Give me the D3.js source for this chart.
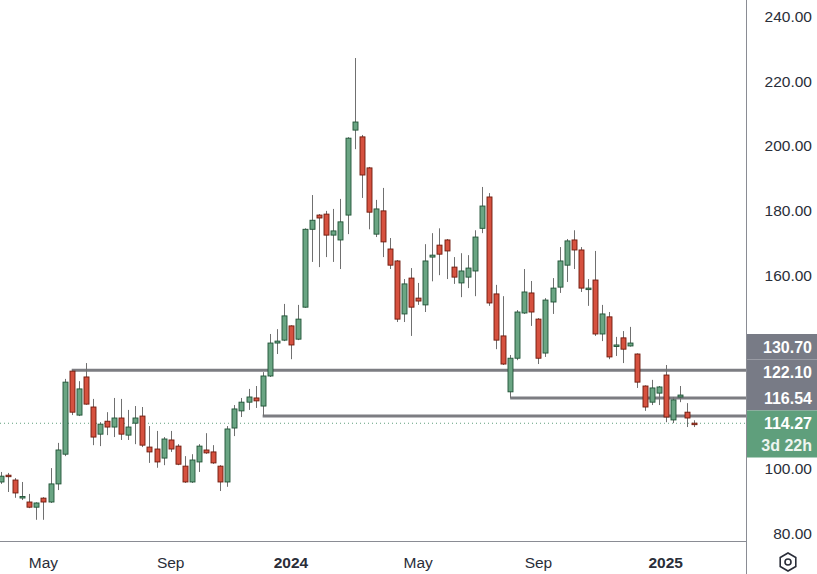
<!DOCTYPE html>
<html>
<head>
<meta charset="utf-8">
<script src="https://d3js.org/d3.v7.min.js"></script>
<style>
  body { margin: 0; background: #fff; }
  svg text { font-family: "Liberation Sans", Arial, sans-serif; }
</style>
</head>
<body>
<svg id="chart" width="817" height="574"></svg>
<script>
// weekly candles, first week 2023-03-20
var firstWeek = new Date(2023, 2, 20);
var opens  = [96.1,98.2,96.7,91.3,89.9,88.3,91.1,89.9,95.5,104.7,130.4,116.8,128.6,119.3,110.9,114.9,113.1,115.9,110.6,114.3,
              116.5,106.9,106.3,103.5,109.1,107.2,101.0,96.1,102.3,106.0,105.4,101.0,96.1,112.8,118.1,120.8,122.1,119.6,128.9,139.1,
              140.0,144.4,140.3,150.2,174.3,178.7,179.0,172.5,171.0,178.7,205.0,202.9,193.3,172.8,180.0,168.2,164.5,148.1,159.2,153.0,
              150.9,165.7,169.4,171.0,162.6,157.7,159.5,161.4,174.6,184.3,154.3,141.3,124.0,134.4,148.4,154.6,146.5,136.0,151.8,156.4,
              163.2,171.0,167.9,155.8,158.6,141.9,147.2,138.3,140.7,138.2,135.7,125.8,120.8,123.6,129.2,115.3,122.4,117.7,114.3];
var highs  = [99.2,98.9,97.3,96.1,92.4,89.8,91.4,100.4,108.2,128.0,130.7,127.3,132.9,121.8,114.6,117.7,122.1,121.8,118.4,119.6,
              119.3,113.4,111.9,110.0,111.9,107.8,104.1,104.7,107.8,111.2,107.5,101.3,113.4,119.9,122.1,124.9,125.8,130.1,141.9,143.4,
              151.2,144.6,150.9,174.6,184.9,179.0,180.0,180.6,183.7,202.8,227.3,203.5,193.6,183.4,187.1,171.6,164.8,158.9,162.3,157.7,
              169.7,173.1,174.6,171.3,165.7,166.9,166.3,174.0,187.4,185.5,157.1,153.6,135.4,149.3,162.0,158.3,146.8,153.0,159.2,168.8,
              171.3,174.0,168.8,158.9,167.6,150.9,148.7,141.0,142.8,144.1,135.9,126.0,127.7,125.8,132.3,122.4,125.8,120.5,115.2];
var lows   = [95.5,93.0,91.2,90.5,88.0,84.4,84.4,89.6,93.6,104.1,116.8,116.5,120.0,107.5,107.2,110.6,110.0,109.1,109.1,107.8,
              106.9,102.0,100.5,101.3,105.4,101.3,95.8,95.8,99.2,104.8,101.7,93.3,94.6,110.3,116.2,118.4,119.0,116.5,128.6,135.7,
              139.7,134.1,140.0,150.0,164.2,162.6,165.7,164.2,162.0,172.8,199.1,184.0,174.3,171.9,165.7,162.0,145.6,145.6,141.3,150.9,
              148.7,158.2,160.1,158.9,157.4,153.3,156.1,153.6,173.1,150.6,137.2,132.3,122.1,133.8,148.1,144.4,132.6,134.8,148.1,154.6,
              158.0,162.0,154.9,150.6,141.3,139.7,134.1,135.1,132.9,138.0,125.2,118.1,119.9,119.9,114.6,114.3,120.8,113.1,113.1];
var closes = [97.9,97.9,92.7,91.6,88.3,89.6,89.9,95.5,106.0,127.0,117.7,124.9,120.2,110.0,114.0,113.1,115.9,110.9,113.1,115.9,
              107.5,105.4,102.3,109.4,106.3,101.6,96.1,102.9,107.2,105.1,102.0,96.1,112.5,118.7,120.8,122.4,121.2,128.9,139.1,139.7,
              147.5,138.5,146.5,174.3,177.1,177.8,172.5,173.8,176.6,202.5,207.5,191.1,179.6,180.6,170.4,163.2,146.5,157.4,150.2,152.1,
              164.5,166.3,166.6,167.6,159.5,161.4,162.3,171.9,181.5,151.5,140.0,132.6,134.4,148.7,154.9,148.7,134.4,152.4,156.1,164.5,
              170.7,167.9,156.1,156.1,141.9,148.1,134.8,138.5,137.2,139.1,127.0,119.3,125.2,125.5,116.2,121.5,123.0,115.9,114.27];

var yTicks = [80, 100, 120, 140, 160, 180, 200, 220, 240];
// support / resistance lines: price and start week index
var levelPrices = [130.70, 122.10, 116.54];
var levelStart  = [10, 72, 37];
var lastPrice = 114.27;
var countdown = "3d 22h";

var data = opens.map(function(o, i){
  return { date: d3.timeWeek.offset(firstWeek, i), o: o, h: highs[i], l: lows[i], c: closes[i] };
});

var svg = d3.select("#chart");
var plotRight = 746, plotBottom = 541;

var x = d3.scaleTime()
  .domain([data[0].date, data[data.length - 1].date])
  .range([1, 694]);
var y = d3.scaleLinear().domain([80, 240]).range([534, 17]);

var green = "#6aa583", greenEdge = "#1f5235", red = "#d6513f", redEdge = "#6e1a0c";

// dotted last price line
svg.append("line")
  .attr("x1", 0).attr("x2", plotRight)
  .attr("y1", y(lastPrice)).attr("y2", y(lastPrice))
  .attr("stroke", "#5f9f7c").attr("stroke-width", 1).attr("stroke-dasharray", "1,3");

// levels
svg.selectAll(".lvl").data(levelPrices).enter().append("line")
  .attr("x1", function(d, i){ return x(data[levelStart[i]].date); })
  .attr("x2", plotRight)
  .attr("y1", function(d){ return y(d); }).attr("y2", function(d){ return y(d); })
  .attr("stroke", "#7c7d82").attr("stroke-width", 3);

// candles
var g = svg.append("g").selectAll("g").data(data).enter().append("g");
g.append("line")
  .attr("x1", function(d){ return Math.round(x(d.date)) + 0.5; })
  .attr("x2", function(d){ return Math.round(x(d.date)) + 0.5; })
  .attr("y1", function(d){ return y(d.h); })
  .attr("y2", function(d){ return y(d.l); })
  .attr("stroke", "#707070").attr("stroke-width", 1);
g.append("rect")
  .attr("x", function(d){ return Math.round(x(d.date)) - 2; })
  .attr("width", 5)
  .attr("y", function(d){ return y(Math.max(d.o, d.c)); })
  .attr("height", function(d){ return Math.max(1.5, Math.abs(y(d.o) - y(d.c))); })
  .attr("fill", function(d){ return d.c >= d.o ? green : red; })
  .attr("stroke", function(d){ return d.c >= d.o ? greenEdge : redEdge; })
  .attr("stroke-width", 0.9);

// axes frame
svg.append("line").attr("x1", plotRight + 0.5).attr("x2", plotRight + 0.5)
  .attr("y1", 0).attr("y2", 574).attr("stroke", "#8a8c94");
svg.append("line").attr("x1", 0).attr("x2", plotRight)
  .attr("y1", plotBottom + 0.5).attr("y2", plotBottom + 0.5).attr("stroke", "#8a8c94");

// price tags area hides ticks behind it
var tagTop = 334, tagBottom = 458;
var shownTicks = yTicks.filter(function(t){ return y(t) < tagTop - 8 || y(t) > tagBottom + 8; });

// y axis labels
svg.selectAll(".yt").data(shownTicks).enter().append("text")
  .attr("x", 812).attr("y", function(d){ return y(d) + 5; })
  .attr("text-anchor", "end").attr("font-size", 15.5).attr("fill", "#2a2e39")
  .text(function(d){ return d.toFixed(2); });

// x axis labels: first bar of each labelled month
var monthBars = data.filter(function(d, i){
  return i > 0 && d.date.getMonth() !== data[i - 1].date.getMonth() && [0, 4, 8].indexOf(d.date.getMonth()) >= 0;
});
svg.selectAll(".xt").data(monthBars).enter().append("text")
  .attr("x", function(d){ return x(d.date); }).attr("y", 568)
  .attr("text-anchor", "middle").attr("font-size", 15.5)
  .attr("font-weight", function(d){ return d.date.getMonth() === 0 ? "bold" : "normal"; })
  .attr("fill", "#2a2e39")
  .text(function(d){ return d.date.getMonth() === 0 ? d.date.getFullYear() : d3.timeFormat("%b")(d.date); });

// price tags
var tagY = [334, 359.5, 385];
levelPrices.forEach(function(p, i){
  svg.append("rect").attr("x", plotRight + 1).attr("y", tagY[i]).attr("width", 71).attr("height", 25.5).attr("fill", "#787b86");
  svg.append("text").attr("x", 812).attr("y", tagY[i] + 18.5).attr("text-anchor", "end")
    .attr("font-size", 16).attr("font-weight", "bold").attr("fill", "#fff").text(p.toFixed(2));
});
svg.append("rect").attr("x", plotRight + 1).attr("y", 410.5).attr("width", 71).attr("height", 47).attr("fill", "#5f9f7c");
svg.append("text").attr("x", 812).attr("y", 429).attr("text-anchor", "end")
  .attr("font-size", 16).attr("font-weight", "bold").attr("fill", "#fff").text(lastPrice.toFixed(2));
svg.append("text").attr("x", 812).attr("y", 451).attr("text-anchor", "end")
  .attr("font-size", 16).attr("font-weight", "bold").attr("fill", "#eef5f0").text(countdown);

// settings hexagon icon
var hex = d3.range(6).map(function(k){
  var a = Math.PI / 3 * k + Math.PI / 6;
  return [788 + 9 * Math.cos(a), 562 + 9 * Math.sin(a)];
});
svg.append("polygon").attr("points", hex.join(" ")).attr("fill", "none").attr("stroke", "#2a2e39").attr("stroke-width", 1.6);
svg.append("circle").attr("cx", 788).attr("cy", 562).attr("r", 3).attr("fill", "none").attr("stroke", "#2a2e39").attr("stroke-width", 1.6);
</script>
</body>
</html>
